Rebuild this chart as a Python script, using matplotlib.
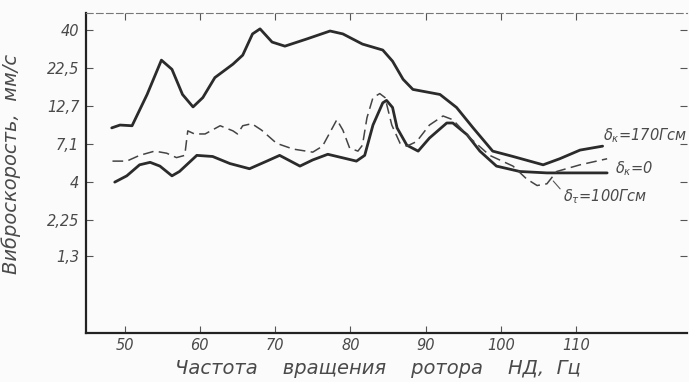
import numpy as np
import matplotlib
matplotlib.use("Agg")
import matplotlib.pyplot as plt
from matplotlib.ticker import FixedLocator, NullLocator

# y axis tick values (equally spaced on a log scale) and x ticks
y_ticks = [1.3, 2.25, 4, 7.1, 12.7, 22.5, 40]
y_labels = ["1,3", "2,25", "4", "7,1", "12,7", "22,5", "40"]
x_ticks = [50, 60, 70, 80, 90, 100, 110]
x_labels = ["50", "60", "70", "80", "90", "100", "110"]

# upper solid curve, dk = 170 g*cm
upper_x = [48.3, 49.4, 51.0, 53.0, 54.9, 56.3, 57.7, 59.1, 60.4, 62.0, 64.4, 65.7,
           67.0, 68.0, 69.6, 71.3, 74.2, 77.3, 79.0, 81.6, 84.3, 85.6, 87.0, 88.3,
           91.9, 94.1, 96.3, 98.9, 101.6, 105.6, 107.8, 110.5, 113.5]
upper_y = [9.1, 9.5, 9.4, 15.1, 25.4, 22.1, 15.1, 12.5, 14.4, 19.5, 23.9, 27.4,
           37.8, 40.8, 33.4, 31.4, 35.0, 39.5, 37.8, 32.4, 29.6, 25.0, 19.0, 16.3,
           15.1, 12.4, 9.1, 6.4, 5.9, 5.2, 5.7, 6.5, 6.9]

# dashed curve
dash_x = [48.4, 50.3, 52.0, 54.0, 55.6, 56.9, 58.0, 58.4, 59.3, 60.7, 62.7, 64.4,
          65.0, 65.7, 66.9, 68.2, 70.2, 72.4, 75.0, 76.3, 78.2, 79.0, 79.9, 81.0,
          81.6, 82.2, 83.0, 83.9, 84.6, 85.5, 86.6, 87.5, 88.8, 90.5, 92.3, 93.6,
          95.9, 98.5, 101.6, 103.4, 104.8, 106.1, 107.4, 110.5, 114.1]
dash_y = [5.5, 5.5, 6.0, 6.4, 6.2, 5.8, 6.0, 8.7, 8.3, 8.3, 9.4, 8.7,
          8.3, 9.4, 9.7, 8.8, 7.2, 6.6, 6.3, 6.9, 10.3, 8.8, 6.7, 6.4,
          7.0, 10.6, 14.4, 15.3, 14.4, 9.5, 7.2, 6.9, 7.4, 9.5, 10.9, 10.3,
          7.8, 6.0, 5.1, 4.2, 3.8, 3.9, 4.7, 5.2, 5.7]

# lower solid curve
lower_x = [48.7, 50.3, 52.0, 53.4, 54.7, 56.3, 57.3, 59.6, 61.7, 64.0, 66.6, 68.9,
           70.6, 73.3, 75.0, 77.0, 79.5, 80.8, 81.9, 83.0, 84.3, 84.8, 85.6, 86.2,
           87.5, 89.0, 90.5, 92.8, 93.6, 95.5, 97.2, 99.4, 102.5, 106.1, 110.5, 114.1]
lower_y = [4.0, 4.4, 5.2, 5.4, 5.1, 4.4, 4.7, 6.0, 5.9, 5.3, 4.9, 5.5,
           6.0, 5.1, 5.6, 6.1, 5.7, 5.5, 6.0, 9.5, 13.3, 13.8, 12.4, 9.1,
           7.0, 6.4, 7.8, 9.8, 9.8, 8.2, 6.4, 5.1, 4.7, 4.6, 4.6, 4.6]

ink = "#2b2b2b"
txt = "#4a4a4a"

fig = plt.figure(figsize=(6.89, 3.82), dpi=100, facecolor="#fbfbfb")
ax = fig.add_axes([0.125, 0.128, 0.872, 0.838])
ax.set_facecolor("#fbfbfb")

ax.plot(upper_x, upper_y, color=ink, lw=2.0, solid_joinstyle="round", solid_capstyle="round")
ax.plot(lower_x, lower_y, color=ink, lw=2.0, solid_joinstyle="round", solid_capstyle="round")
ax.plot(dash_x, dash_y, color="#444444", lw=1.1, dashes=(7, 3.5))

ax.set_yscale("log")
ax.set_xlim(44.9, 124.7)
ax.set_ylim(0.406, 51.9)

ax.yaxis.set_major_locator(FixedLocator(y_ticks))
ax.yaxis.set_minor_locator(NullLocator())
ax.set_yticklabels(y_labels)
ax.set_xticks(x_ticks)
ax.set_xticklabels(x_labels)

ax.tick_params(axis="both", direction="in", length=5, width=0.8, color="#555555",
               top=True, right=True, labelsize=10.5, labelcolor=txt)
ax.tick_params(axis="y", pad=5)
for lab in ax.get_xticklabels() + ax.get_yticklabels():
    lab.set_fontstyle("italic")

for s in ["left", "bottom"]:
    ax.spines[s].set_linewidth(1.6)
    ax.spines[s].set_color("#222222")
ax.spines["top"].set_linestyle((0, (6, 3)))
ax.spines["top"].set_linewidth(0.8)
ax.spines["top"].set_color("#777777")
ax.spines["right"].set_visible(False)

ax.set_ylabel("Виброскорость,  мм/с", fontsize=14, style="italic", color=txt)
ax.yaxis.set_label_coords(-0.108, 0.53)
ax.set_xlabel("Частота    вращения    ротора    НД,  Гц", fontsize=14, style="italic",
              color=txt)
ax.xaxis.set_label_coords(0.486, -0.082)

# curve labels
ax.text(113.6, 8.05, r"$\delta_\kappa$=170Гсм", fontsize=10.5, style="italic", color=txt,
        va="center", ha="left")
ax.text(115.1, 4.93, r"$\delta_\kappa$=0", fontsize=10.5, style="italic", color=txt,
        va="center", ha="left")
ax.text(108.3, 3.21, r"$\delta_\tau$=100Гсм", fontsize=10.5, style="italic", color=txt,
        va="center", ha="left")
ax.annotate("", xy=(106.7, 4.2), xytext=(108.1, 3.5),
            arrowprops=dict(arrowstyle="-", color="#555555", lw=0.8))

fig.savefig("out.png", dpi=100, facecolor=fig.get_facecolor())
